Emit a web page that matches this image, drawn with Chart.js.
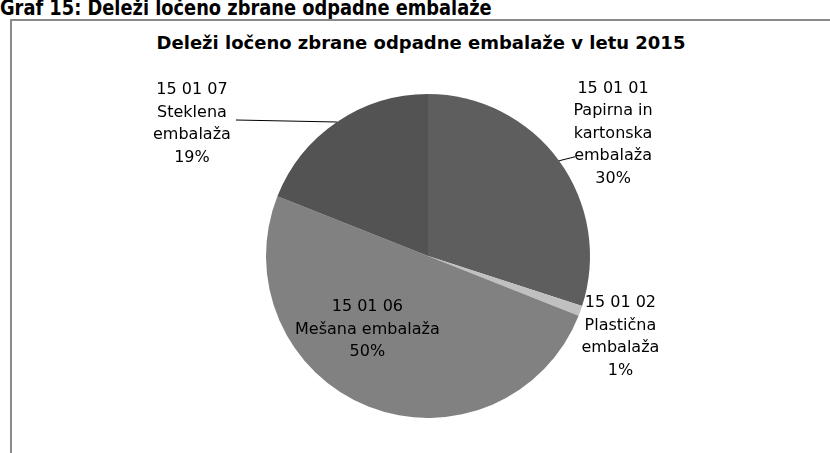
<!DOCTYPE html>
<html>
<head>
<meta charset="utf-8">
<script src="https://cdn.jsdelivr.net/npm/chart.js@4/dist/chart.umd.min.js"></script>
<style>
  html, body { margin:0; padding:0; background:#fff; }
  #wrap { position:relative; width:830px; height:453px; overflow:hidden; background:#fff; }
  #box { position:absolute; left:10px; top:19px; width:900px; height:500px;
         border-left:2px solid #8a8a8a; border-top:2px solid #8a8a8a; box-sizing:border-box; }
  #head { position:absolute; left:0; top:-3px; font-family:"DejaVu Sans Condensed","DejaVu Sans",sans-serif;
          font-weight:bold; font-size:22px; line-height:22px; color:#000; white-space:nowrap;
          transform:scaleX(0.9); transform-origin:0 0; }
  #title { position:absolute; left:11px; width:820px; top:32px; text-align:center;
           font-family:"DejaVu Sans",sans-serif; font-weight:bold;
           font-size:18px; line-height:22px; color:#000; white-space:nowrap; }
  canvas { position:absolute; left:0; top:0; }
</style>
</head>
<body>
<div id="wrap">
  <div id="box"></div>
  <div id="head">Graf 15: Deleži ločeno zbrane odpadne embalaže</div>
  <div id="title">Deleži ločeno zbrane odpadne embalaže v letu 2015</div>
  <canvas id="c" width="830" height="453"></canvas>
</div>
<script>
const categories = ["15 01 01 Papirna in kartonska embalaža", "15 01 02 Plastična embalaža", "15 01 06 Mešana embalaža", "15 01 07 Steklena embalaža"];
const labelLines = [
  ["15 01 01", "Papirna in", "kartonska", "embalaža"],
  ["15 01 02", "Plastična", "embalaža"],
  ["15 01 06", "Mešana embalaža"],
  ["15 01 07", "Steklena", "embalaža"]
];
const values = [30, 1, 50, 19];
const sliceColors = ["#5e5e5e", "#c0c0c0", "#818181", "#535353"];

const labelPlugin = {
  id: 'pieLabels',
  afterDatasetsDraw(chart, args, opts) {
    const ctx = chart.ctx;
    const meta = chart.getDatasetMeta(0);
    const total = values.reduce((a, b) => a + b, 0);
    ctx.save();
    ctx.font = '16px "DejaVu Sans", sans-serif';
    ctx.fillStyle = '#000';
    ctx.textAlign = 'center';
    ctx.textBaseline = 'middle';
    const lh = 22.5;
    meta.data.forEach((arc, i) => {
      const p = arc.getProps(['x', 'y', 'startAngle', 'endAngle', 'outerRadius'], true);
      const mid = (p.startAngle + p.endAngle) / 2;
      const ax = p.x + Math.cos(mid) * p.outerRadius;
      const ay = p.y + Math.sin(mid) * p.outerRadius;
      const o = opts.place[i];
      const cx = ax + o.dx, cy = ay + o.dy;
      const lines = labelLines[i].concat([Math.round(values[i] / total * 100) + '%']);
      const y0 = cy - (lines.length - 1) * lh / 2;
      lines.forEach((t, k) => ctx.fillText(t, cx, y0 + k * lh));
      if (o.leader) {
        ctx.strokeStyle = '#000';
        ctx.lineWidth = 1;
        ctx.beginPath();
        ctx.moveTo(ax, ay);
        ctx.lineTo(ax + o.leader[0], ay + o.leader[1]);
        ctx.stroke();
      }
    });
    ctx.restore();
  }
};

new Chart(document.getElementById('c'), {
  type: 'pie',
  data: {
    labels: categories,
    datasets: [{ data: values, backgroundColor: sliceColors, borderWidth: 0 }]
  },
  options: {
    responsive: false,
    animation: false,
    layout: { padding: { top: 94, bottom: 35, left: 100, right: 74 } },
    plugins: {
      legend: { display: false },
      tooltip: { enabled: false },
      title: { display: false },
      pieLabels: {
        place: [
          { dx: 54, dy: -27, leader: [16, -4] },
          { dx: 40, dy: 26 },
          { dx: -1, dy: -77 },
          { dx: -145, dy: 2, leader: [-101, -2] }
        ]
      }
    }
  },
  plugins: [labelPlugin]
});
</script>
</body>
</html>
